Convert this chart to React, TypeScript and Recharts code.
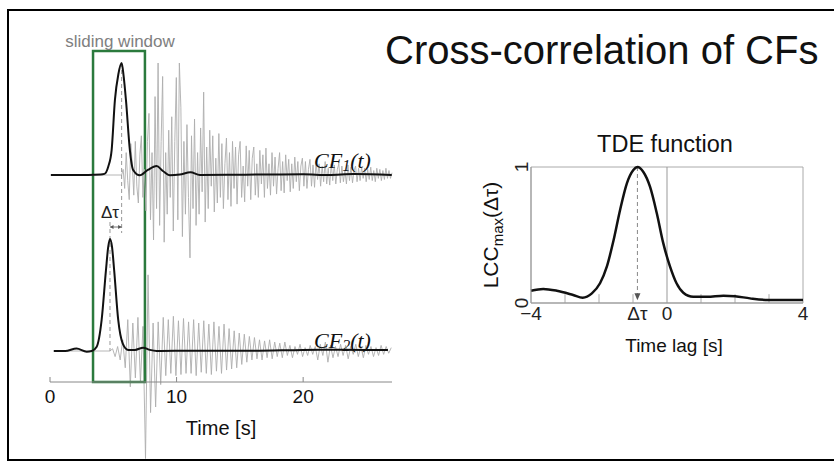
import React from 'react';
import {
  ComposedChart,
  LineChart,
  Line,
  XAxis,
  YAxis,
  ReferenceArea,
  ReferenceLine,
  ReferenceDot,
} from 'recharts';

// ---------------- data ----------------
const TIME_TICKS = [0, 10, 20];
const TIME_MAX = 27;
const WINDOW_START = 3.4;
const WINDOW_END = 7.5;

// characteristic function CF1(t): time [s], normalised amplitude
const CF1_T = [0.08, 2, 4.0, 4.3, 4.6, 4.87, 5.13, 5.4, 5.66, 5.82, 6.0, 6.31, 6.57, 7.1, 7.73, 8.42, 8.92, 9.47, 10.26, 11.1, 11.84, 14, 17, 20, 22, 24, 27];
const CF1_V = [0, 0, 0.005, 0.01, 0.074, 0.223, 0.67, 0.9, 1.0, 0.88, 0.67, 0.223, 0.045, -0.003, 0.045, 0.08, 0.036, -0.003, 0.004, 0.024, 0, 0.002, 0.004, 0.006, 0, 0.008, 0];
const CF1_PEAK = 5.66;

// characteristic function CF2(t)
const CF2_T = [0.3, 1.2, 2.1, 2.9, 3.3, 3.69, 4.08, 4.42, 4.6, 4.74, 4.9, 5.07, 5.39, 5.74, 6.18, 6.71, 7.36, 7.89, 8.42, 12, 16, 20, 23, 26.7];
const CF2_V = [0, 0, 0.022, -0.006, 0, 0.038, 0.277, 0.72, 0.93, 1.0, 0.93, 0.72, 0.277, 0.069, 0.01, 0.01, 0.03, 0.01, 0, 0.003, 0.002, 0.01, 0.012, 0.008];
const CF2_PEAK = 4.74;

// seismogram 1 (gray), samples after onset
const SEIS1_ONSET = 5.66;
const SEIS1_STEP = 0.12;
const SEIS1 = [
  0.05, -0.12, 0.2, -0.05, -0.22, 0.28, 0.1, -0.18, 0.3, -0.1,
  -0.25, 0.18, 0.35, -0.2, 0.05, -0.32, 0.3, 0.55, -0.4, 0.2,
  -0.58, 0.7, -0.3, 1.0, -0.45, 0.3, 0.88, -0.6, 0.2, -0.35,
  0.4, -0.2, 0.52, -0.5, 0.3, 0.87, -0.4, 1.0, 0.6, -0.55,
  0.3, -0.35, 0.45, -0.2, -0.74, 0.35, -0.3, 0.5, -0.45, 0.2,
  -0.35, 0.42, -0.15, 0.74, -0.42, 0.25, -0.3, 0.4, -0.1, 0.35,
  -0.33, 0.15, -0.25, 0.37, -0.2, 0.28, -0.3, 0.1, 0.33, -0.22,
  0.2, -0.28, 0.3, -0.12, 0.25, -0.26, 0.18, 0.3, -0.2, 0.08,
  -0.24, 0.26, -0.1, 0.22, -0.22, 0.15, 0.25, -0.18, 0.1, -0.2,
  0.22, -0.08, 0.18, -0.2, 0.24, -0.12, 0.1, -0.18, 0.2, -0.1,
  0.16, -0.17, 0.06, 0.2, -0.14, 0.12, -0.16, 0.18, -0.05, 0.14,
  -0.15, 0.1, -0.12, 0.16, -0.06, 0.12, -0.14, 0.08, 0.15, -0.1,
  0.12, -0.12, 0.05, 0.14, -0.1, 0.09, -0.11, 0.12, -0.04, 0.1,
  -0.1, 0.08, -0.06, 0.12, -0.08, 0.06, -0.09, 0.1, -0.05, 0.09,
  -0.08, 0.05, 0.1, -0.07, 0.08, -0.06, 0.04, -0.08, 0.09, -0.05,
  0.07, -0.07, 0.04, 0.08, -0.06, 0.06, -0.05, 0.07, -0.03, 0.06,
  -0.06, 0.05, -0.04, 0.07, -0.05, 0.04, -0.06, 0.06, -0.03, 0.05,
  -0.05, 0.04, -0.04, 0.06, -0.03, 0.04, -0.03, 0.02,
];

// seismogram 2 (gray), samples after onset
const SEIS2_ONSET = 4.74;
const SEIS2_STEP = 0.2;
const SEIS2 = [
  0.02, -0.05, 0.04, -0.08, 0.1, -0.15, 0.28, -0.32, 0.25, -0.24,
  0.3, -0.28, 0.22, -0.96, 0.68, -0.55, 0.25, -0.5, 0.26, -0.3,
  0.3, -0.22, 0.28, -0.2, 0.31, -0.22, 0.27, -0.21, 0.29, -0.2,
  0.26, -0.2, 0.28, -0.22, 0.25, -0.19, 0.27, -0.2, 0.24, -0.21,
  0.26, -0.18, 0.22, -0.2, 0.24, -0.17, 0.2, -0.16, 0.18, -0.15,
  0.16, -0.12, 0.15, -0.1, 0.13, -0.08, 0.12, -0.07, 0.1, -0.08,
  0.09, -0.06, 0.1, -0.07, 0.08, -0.05, 0.07, -0.06, 0.08, -0.04,
  0.05, -0.06, 0.04, -0.03, 0.06, -0.05, 0.03, -0.04, 0.05, -0.03,
  0.04, -0.08, 0.06, -0.04, 0.08, -0.1, 0.05, -0.06, 0.04, -0.05,
  0.06, -0.04, 0.05, -0.07, 0.04, -0.03, 0.06, -0.05, 0.04, -0.06,
  0.05, -0.03, 0.04, -0.05, 0.03, -0.04, 0.05, -0.03, 0.04, -0.02, 0.03,
];

// TDE function
const LAG_TICKS = [-4, 0, 4];
const LAG_MINOR = [-3, -2, -1, 1, 2, 3];
const LCC_TICKS = [0, 1];
const TDE_LAG = [-4, -3.64, -3.24, -2.76, -2.48, -2.21, -1.97, -1.77, -1.57, -1.38, -1.18, -0.99, -0.87, -0.7, -0.5, -0.3, -0.11, 0.09, 0.28, 0.48, 0.77, 1.18, 1.66, 2.0, 2.44, 2.98, 4];
const TDE_VAL = [0.09, 0.103, 0.09, 0.059, 0.039, 0.071, 0.145, 0.267, 0.463, 0.684, 0.88, 0.978, 1.0, 0.965, 0.855, 0.66, 0.44, 0.267, 0.145, 0.076, 0.046, 0.046, 0.054, 0.05, 0.034, 0.022, 0.022];
const DELTA_TAU = -0.87;

// ---------------- layout ----------------
const W = 834;
const H = 462;
const FONT = '"Liberation Sans", Arial, Helvetica, sans-serif';
const SERIF = '"Liberation Serif", "Times New Roman", serif';
// left panel: vertical unit v = H - py
const BASE1 = 287;
const BASE2 = 111;
const AMP = 112;
const GREEN = '#2b7a3d';
const GRAY_TRACE = '#aeaeae';

const cf1Data = CF1_T.map((t, i) => ({ t, v: BASE1 + AMP * CF1_V[i] }));
const cf2Data = CF2_T.map((t, i) => ({ t, v: BASE2 + AMP * CF2_V[i] }));
const seis1Data = [
  { t: 0, v: BASE1 },
  { t: SEIS1_ONSET, v: BASE1 },
  ...SEIS1.map((a, i) => ({ t: SEIS1_ONSET + (i + 1) * SEIS1_STEP, v: BASE1 + AMP * a })),
];
const seis2Data = [
  { t: 0.3, v: BASE2 },
  { t: SEIS2_ONSET, v: BASE2 },
  ...SEIS2.map((a, i) => ({ t: SEIS2_ONSET + (i + 1) * SEIS2_STEP, v: BASE2 + AMP * a })),
];
const tdeData = TDE_LAG.map((lag, i) => ({ lag, v: TDE_VAL[i] }));

const LagTick = (props: any) => {
  const { x, y, payload } = props;
  const val = payload.value;
  const label = val === DELTA_TAU ? 'Δτ' : val < 0 ? `\u2212${Math.abs(val)}` : String(val);
  return (
    <text x={x} y={y + 17} textAnchor="middle" fontSize={19} fill="#222" fontFamily={FONT}>
      {label}
    </text>
  );
};

const LccTick = (props: any) => {
  const { x, y, payload } = props;
  const bx = x - 3;
  return (
    <text
      x={bx}
      y={y}
      transform={`rotate(-90, ${bx}, ${y})`}
      textAnchor="middle"
      fontSize={19}
      fill="#222"
      fontFamily={FONT}
    >
      {String(payload.value)}
    </text>
  );
};

const arrowLeft = (p: any) => (
  <path d={`M${p.cx},${p.cy} L${p.cx + 3.5},${p.cy - 2} L${p.cx + 3.5},${p.cy + 2} Z`} fill="#555" />
);
const arrowRight = (p: any) => (
  <path d={`M${p.cx},${p.cy} L${p.cx - 3.5},${p.cy - 2} L${p.cx - 3.5},${p.cy + 2} Z`} fill="#555" />
);
const arrowDown = (p: any) => (
  <path d={`M${p.cx},${p.cy} L${p.cx - 3},${p.cy - 7} L${p.cx + 3},${p.cy - 7} Z`} fill="#555" />
);

const layer: React.CSSProperties = { position: 'absolute', left: 0, top: 0 };

export default function App() {
  return (
    <div
      style={{
        position: 'absolute',
        left: 0,
        top: 0,
        width: W,
        height: H,
        overflow: 'hidden',
        background: '#fff',
        fontFamily: FONT,
      }}
    >
      {/* frame */}
      <div
        style={{
          position: 'absolute',
          left: 7,
          top: 9,
          width: 840,
          height: 452,
          border: '2px solid #000',
          boxSizing: 'border-box',
        }}
      />

      {/* Layer A: lower seismogram (may extend below the time axis) */}
      <div style={layer}>
        <ComposedChart width={W} height={H} margin={{ top: 40, left: 50, right: 442, bottom: 0 }}>
          <XAxis type="number" dataKey="t" domain={[0, TIME_MAX]} hide />
          <YAxis type="number" domain={[0, 422]} hide />
          <Line
            data={seis2Data}
            dataKey="v"
            type="linear"
            stroke={GRAY_TRACE}
            strokeWidth={0.9}
            dot={false}
            isAnimationActive={false}
          />
        </ComposedChart>
      </div>

      {/* Layer B: CFs, upper seismogram, window, time axis */}
      <div style={layer}>
        <ComposedChart width={W} height={H} margin={{ top: 40, left: 50, right: 442, bottom: 50 }}>
          <XAxis
            type="number"
            dataKey="t"
            domain={[0, TIME_MAX]}
            ticks={TIME_TICKS}
            interval={0}
            height={30}
            stroke="#888"
            tickSize={-5}
            tickMargin={13}
            tick={{ fill: '#111', fontSize: 19, fontFamily: FONT }}
          />
          <YAxis type="number" domain={[80, 422]} hide />
          <Line
            data={seis1Data}
            dataKey="v"
            type="linear"
            stroke={GRAY_TRACE}
            strokeWidth={0.9}
            dot={false}
            isAnimationActive={false}
          />
          <ReferenceArea
            x1={WINDOW_START}
            x2={WINDOW_END}
            y1={80}
            y2={411}
            fill="none"
            stroke={GREEN}
            strokeWidth={2.5}
            fillOpacity={0}
          />
          <ReferenceLine
            segment={[{ x: CF1_PEAK, y: BASE1 + AMP }, { x: CF1_PEAK, y: 229 }]}
            stroke="#999"
            strokeDasharray="4 3"
          />
          <ReferenceLine
            segment={[{ x: CF2_PEAK, y: 240 }, { x: CF2_PEAK, y: BASE2 }]}
            stroke="#999"
            strokeDasharray="4 3"
          />
          <ReferenceLine
            segment={[{ x: CF2_PEAK, y: 235 }, { x: CF1_PEAK, y: 235 }]}
            stroke="#555"
            strokeWidth={0.8}
          />
          <ReferenceDot x={CF2_PEAK} y={235} r={0} shape={arrowLeft} />
          <ReferenceDot x={CF1_PEAK} y={235} r={0} shape={arrowRight} />
          <Line
            data={cf2Data}
            dataKey="v"
            type="monotone"
            stroke="#111"
            strokeWidth={2}
            dot={false}
            isAnimationActive={false}
          />
          <Line
            data={cf1Data}
            dataKey="v"
            type="monotone"
            stroke="#111"
            strokeWidth={2}
            dot={false}
            isAnimationActive={false}
          />
        </ComposedChart>
      </div>

      {/* Layer C: TDE function */}
      <div style={layer}>
        <LineChart width={W} height={H} margin={{ top: 167, left: 501, right: 31, bottom: 129 }}>
          <XAxis
            type="number"
            dataKey="lag"
            domain={[-4, 4]}
            ticks={[LAG_TICKS[0], DELTA_TAU, LAG_TICKS[1], LAG_TICKS[2]]}
            interval={0}
            height={30}
            stroke="#999"
            tickLine={false}
            tickSize={0}
            tickMargin={0}
            tick={<LagTick />}
          />
          <YAxis
            type="number"
            domain={[0, 1]}
            ticks={LCC_TICKS}
            interval={0}
            width={30}
            stroke="#999"
            tickLine={false}
            tickSize={0}
            tickMargin={0}
            tick={<LccTick />}
          />
          <ReferenceArea x1={-4} x2={4} y1={0} y2={1} fill="none" fillOpacity={0} stroke="#aaa" strokeWidth={1} />
          <ReferenceLine x={0} stroke="#999" strokeWidth={1} />
          {LAG_MINOR.map((m) => (
            <ReferenceLine
              key={m}
              segment={[{ x: m, y: 0 }, { x: m, y: 0.065 }]}
              stroke="#aaa"
              strokeWidth={1}
            />
          ))}
          <ReferenceLine
            segment={[{ x: DELTA_TAU, y: 1 }, { x: DELTA_TAU, y: 0.03 }]}
            stroke="#888"
            strokeDasharray="4 3"
          />
          <ReferenceDot x={DELTA_TAU} y={0.02} r={0} shape={arrowDown} />
          <Line
            data={tdeData}
            dataKey="v"
            type="monotone"
            stroke="#111"
            strokeWidth={2.5}
            dot={false}
            isAnimationActive={false}
          />
        </LineChart>
      </div>

      {/* text overlay */}
      <svg width={W} height={H} style={{ ...layer, pointerEvents: 'none' }}>
        <text x={385} y={64} fontSize={40} fill="#111" fontFamily={FONT}>
          Cross-correlation of CFs
        </text>
        <text x={120} y={47} fontSize={17} fill="#808080" textAnchor="middle" fontFamily={FONT}>
          sliding window
        </text>
        <text x={101} y={218} fontSize={17} fill="#222" fontFamily={FONT}>
          Δτ
        </text>
        <text x={314} y={168} fontSize={22} fill="#111" fontStyle="italic" fontFamily={SERIF}>
          CF
          <tspan fontSize={16} dy={3}>1</tspan>
          <tspan fontSize={22} dy={-3}>(t)</tspan>
        </text>
        <text x={314} y={348} fontSize={22} fill="#111" fontStyle="italic" fontFamily={SERIF}>
          CF
          <tspan fontSize={16} dy={3}>2</tspan>
          <tspan fontSize={22} dy={-3}>(t)</tspan>
        </text>
        <text x={221} y={435} fontSize={20} fill="#111" textAnchor="middle" fontFamily={FONT}>
          Time [s]
        </text>
        <text x={665} y={152} fontSize={23.5} fill="#111" textAnchor="middle" fontFamily={FONT}>
          TDE function
        </text>
        <text x={674} y={352} fontSize={19} fill="#111" textAnchor="middle" fontFamily={FONT}>
          Time lag [s]
        </text>
        <text
          x={498}
          y={235}
          transform="rotate(-90, 498, 235)"
          fontSize={21}
          fill="#111"
          textAnchor="middle"
          fontFamily={FONT}
        >
          LCC
          <tspan fontSize={15} dy={5}>max</tspan>
          <tspan fontSize={21} dy={-5}>(Δτ)</tspan>
        </text>
      </svg>
    </div>
  );
}
